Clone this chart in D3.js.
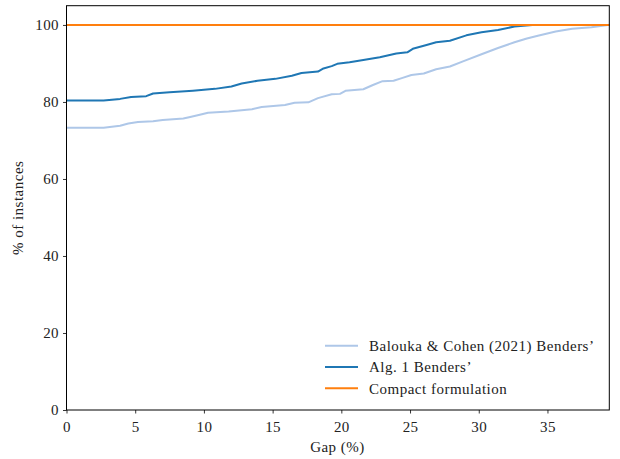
<!DOCTYPE html>
<html><head><meta charset="utf-8">
<script src="https://cdn.jsdelivr.net/npm/d3@7"></script>
<style>
body{margin:0;background:#fff;}
</style></head>
<body><svg id="c" width="620" height="459" font-family="Liberation Serif"></svg>
<script>
const seriesNames = ["Balouka & Cohen (2021) Benders\u2019", "Alg. 1 Benders\u2019", "Compact formulation"];
const seriesColors = ["#aec7e8", "#1f77b4", "#ff7f0e"];
const baloukaGap = [0, 2.7, 3.9, 4.5, 5.2, 6.3, 7.0, 8.5, 9.0, 9.7, 10.3, 11.8, 13.5, 14.2, 15.9, 16.6, 17.6, 18.3, 19.3, 19.9, 20.3, 21.6, 22.3, 23.0, 23.8, 24.4, 25.1, 26.0, 26.9, 27.9, 28.9, 30.2, 31.4, 32.6, 33.5, 34.3, 35.6, 36.8, 38.2, 39.5];
const baloukaPct = [73.3, 73.3, 73.8, 74.4, 74.8, 75.0, 75.3, 75.7, 76.1, 76.7, 77.2, 77.5, 78.1, 78.7, 79.2, 79.8, 79.9, 81.0, 82.0, 82.1, 82.9, 83.3, 84.4, 85.4, 85.5, 86.2, 87.0, 87.4, 88.5, 89.2, 90.6, 92.4, 94.0, 95.5, 96.5, 97.2, 98.3, 99.0, 99.4, 100];
const alg1Gap = [0, 2.7, 3.9, 4.7, 5.8, 6.3, 7.5, 9.2, 10.8, 12.0, 12.75, 13.9, 15.2, 16.4, 17.1, 18.3, 18.7, 19.3, 19.7, 20.6, 21.6, 22.8, 24.0, 24.8, 25.2, 26.2, 26.9, 27.9, 29.1, 30.2, 31.4, 32.6, 33.9, 39.5];
const alg1Pct = [80.4, 80.4, 80.8, 81.3, 81.5, 82.2, 82.5, 82.9, 83.4, 84.0, 84.8, 85.5, 86.0, 86.8, 87.5, 87.9, 88.7, 89.3, 89.9, 90.3, 90.9, 91.6, 92.6, 92.9, 93.8, 94.8, 95.5, 95.9, 97.3, 98.1, 98.7, 99.6, 100, 100];
const compactGap = [0, 39.5];
const compactPct = [100, 100];
const xTicks = [0, 5, 10, 15, 20, 25, 30, 35];
const yTicks = [0, 20, 40, 60, 80, 100];

const svg = d3.select("#c");
const L = 66.5, R = 609.3, T = 5.7, B = 410;
const x = d3.scaleLinear().domain([0, 39.5]).range([L, R]);
const y = d3.scaleLinear().domain([0, 105]).range([B, T]);

svg.append("defs").append("clipPath").attr("id","clip")
  .append("rect").attr("x",L).attr("y",T).attr("width",R-L).attr("height",B-T);

const series = [
  {g: baloukaGap, p: baloukaPct},
  {g: alg1Gap, p: alg1Pct},
  {g: compactGap, p: compactPct}
];
const line = d3.line().x(d=>x(d[0])).y(d=>y(d[1]));
const lg = svg.append("g").attr("clip-path","url(#clip)");
series.forEach((s,i)=>{
  lg.append("path").datum(s.g.map((g,j)=>[g, s.p[j]]))
    .attr("d", line).attr("fill","none")
    .attr("stroke", seriesColors[i]).attr("stroke-width", 2)
    .attr("stroke-linejoin","round").attr("stroke-linecap","square");
});

const xa = svg.append("g").attr("transform",`translate(0,${B})`)
  .call(d3.axisBottom(x).tickValues(xTicks).tickSize(3.5).tickPadding(4).tickFormat(d3.format("d")));
const ya = svg.append("g").attr("transform",`translate(${L},0)`)
  .call(d3.axisLeft(y).tickValues(yTicks).tickSize(3.5).tickPadding(4).tickFormat(d3.format("d")));
[xa, ya].forEach(a=>{
  a.attr("font-family", "Liberation Serif").attr("font-size", 15);
  a.select(".domain").remove();
  a.selectAll("line").attr("stroke","#000").attr("stroke-width",0.8);
  a.selectAll("text").attr("fill","#222").attr("letter-spacing", 0.4);
});
xa.selectAll("text").attr("dy","0.95em");

svg.append("rect").attr("x",L).attr("y",T).attr("width",R-L).attr("height",B-T)
  .attr("fill","none").attr("stroke","#000").attr("stroke-width",1);

svg.append("text").attr("x",337.5).attr("y",452).attr("text-anchor","middle")
  .attr("font-size",15).attr("letter-spacing",0.5).attr("fill","#222").text("Gap (%)");
svg.append("text").attr("transform",`translate(23,${(T+B)/2}) rotate(-90)`)
  .attr("text-anchor","middle").attr("font-size",15).attr("letter-spacing",0.5).attr("fill","#222").text("% of instances");

const leg = svg.append("g");
const legY = [345.7, 366.9, 388.3];
seriesNames.forEach((n,i)=>{
  leg.append("line").attr("x1",325).attr("x2",358).attr("y1",legY[i]).attr("y2",legY[i])
    .attr("stroke",seriesColors[i]).attr("stroke-width",2);
  leg.append("text").attr("x",369).attr("y",legY[i]).attr("dy","0.35em")
    .attr("font-size",15).attr("letter-spacing",0.5).attr("fill","#222").text(n);
});
</script></body></html>
